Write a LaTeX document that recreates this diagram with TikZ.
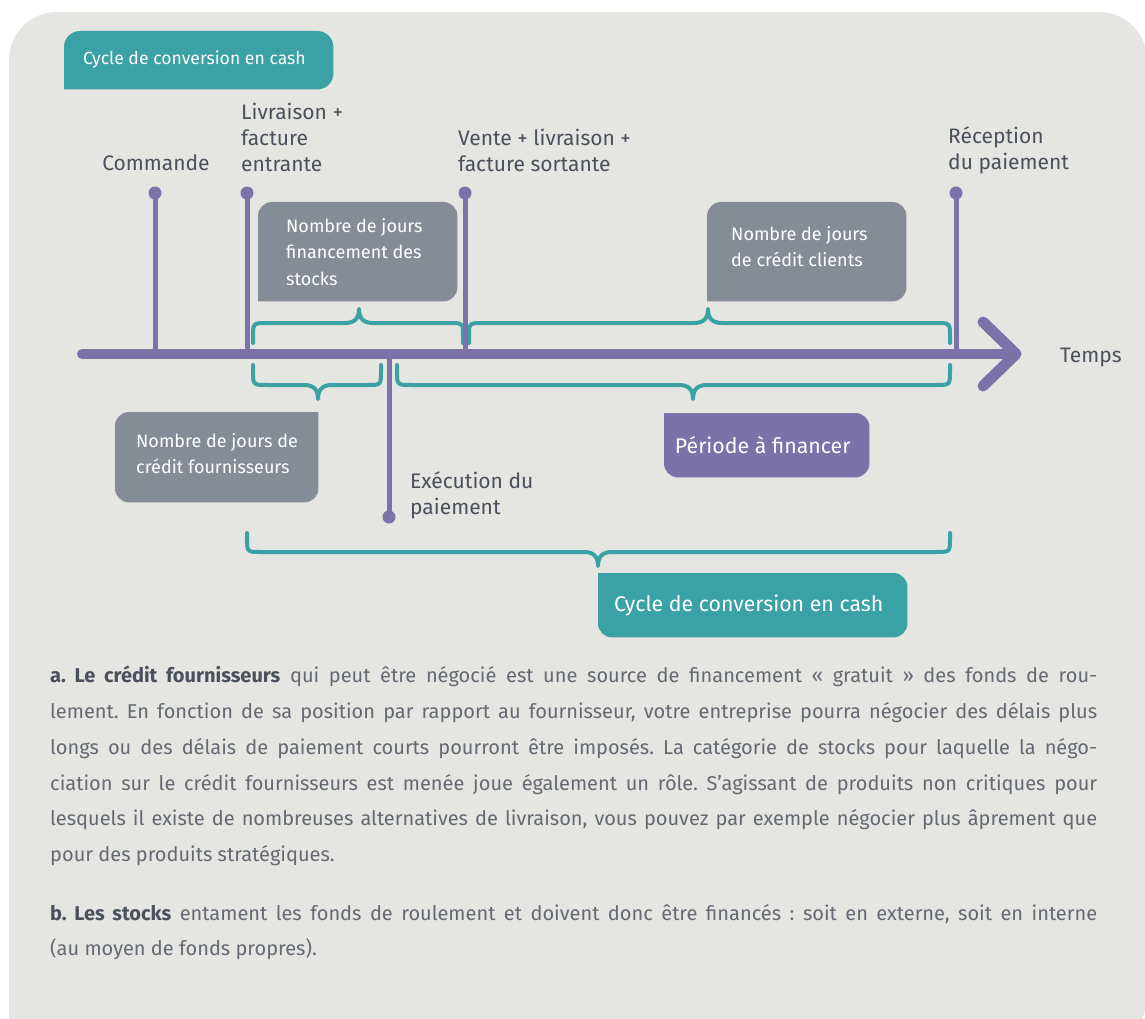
\documentclass[tikz,border=0pt]{standalone}
\usepackage{fontspec}
\setmainfont{Fira Sans}
\usetikzlibrary{backgrounds}
\definecolor{panel}{HTML}{E5E5E1}
\definecolor{purp}{HTML}{7B72AA}
\definecolor{tealc}{HTML}{3AA1A5}
\definecolor{gboxc}{HTML}{868C96}
\definecolor{lblc}{HTML}{4A505C}
\definecolor{bodyc}{HTML}{646973}
% #1 x left, #2 x right, #3 x tip, #4 y ends, #5 y bar, #6 y tip, #7 corner offset toward ends
\newcommand\hbrace[7]{%
  \draw[brc] (#1,#4) -- (#1,{#5+#7}) .. controls (#1,#5) .. ({#1+14},#5) -- ({#3-14},#5)
    .. controls ({#3-4},#5) and (#3,{#5+0.35*(#6-#5)}) .. (#3,#6)
    .. controls (#3,{#5+0.35*(#6-#5)}) and ({#3+4},#5) .. ({#3+14},#5)
    -- ({#2-14},#5) .. controls (#2,#5) .. (#2,{#5+#7}) -- (#2,#4);}
\begin{document}
\begin{tikzpicture}[x=1pt,y=-1pt,
  tick/.style={draw=purp, line width=5pt},
  dotn/.style={circle, fill=purp, inner sep=0pt, minimum size=13pt},
  lbl/.style={text=lblc, font=\fontsize{21}{26}\selectfont, align=left, inner sep=0pt},
  brc/.style={draw=tealc, line width=4pt, line cap=round, line join=round},
  shp/.style={inner sep=0pt, anchor=north west},
  boxtxt/.style={text=white, font=\fontsize{18}{26.5}\selectfont, align=left, inner sep=0pt},
  bigtxt/.style={text=white, font=\fontsize{21.3}{24}\selectfont, inner sep=0pt},
  bodytxt/.style={anchor=north west, inner sep=0pt, text width=1047pt, align=justify, text=bodyc,
      font=\fontsize{20}{35.7}\selectfont}]
\useasboundingbox (0,0) rectangle (1145,1019);
\begin{scope}
\clip (0,0) rectangle (1145,1019);
\fill[white] (0,0) rectangle (1145,1019);
\fill[panel, rounded corners=48] (9,1045) -- (9,12) -- (1147,12) -- (1147,1045) -- (9,1045);
\end{scope}

% top teal label
\node[shp, minimum width=269pt, minimum height=58pt] (ttl) at (64,31) {};
\fill[tealc, rounded corners=16] (ttl.south west) -- (ttl.north west) -- (ttl.north east) -- (ttl.south east) -- (ttl.south west);
\node[text=white, font=\fontsize{17.6}{20}\selectfont, inner sep=0pt, anchor=west] (ttlt) at (83,60) {Cycle de conversion en cash};

% grey boxes
\node[shp, minimum width=199pt, minimum height=99pt] (stk) at (258,202) {};
\fill[gboxc, rounded corners=14] (stk.south west) -- (stk.north west) -- (stk.north east) -- (stk.south east) -- (stk.south west);
\node[boxtxt, anchor=west] (stkt) at ([xshift=28pt]stk.west) {Nombre de jours\\financement des\\stocks};

\node[shp, minimum width=199pt, minimum height=99pt] (cli) at (707,202) {};
\fill[gboxc, rounded corners=14] (cli.south west) -- (cli.north west) -- (cli.north east) -- (cli.south east) -- (cli.south west);
\node[boxtxt, anchor=west] (clit) at ([xshift=24pt, yshift=5pt]cli.west) {Nombre de jours\\de crédit clients};

\node[shp, minimum width=203pt, minimum height=90pt] (four) at (115,412) {};
\fill[gboxc, rounded corners=14] (four.north east) -- (four.south east) -- (four.south west) -- (four.north west) -- (four.north east);
\node[boxtxt, anchor=west] (fourt) at ([xshift=21pt, yshift=3.5pt]four.west) {Nombre de jours de\\crédit fournisseurs};

% purple period box
\node[shp, minimum width=205pt, minimum height=64pt] (per) at (664,413) {};
\fill[purp, rounded corners=14] (per.north west) -- (per.north east) -- (per.south east) -- (per.south west) -- (per.north west);
\node[bigtxt, anchor=center] (pert) at ([xshift=-4pt]per.center) {Période à financer};

% bottom teal box
\node[shp, minimum width=309pt, minimum height=64pt] (ccc) at (598,573) {};
\fill[tealc, rounded corners=14] (ccc.north west) -- (ccc.north east) -- (ccc.south east) -- (ccc.south west) -- (ccc.north west);
\node[bigtxt, anchor=center] (ccct) at ([xshift=-4pt]ccc.center) {Cycle de conversion en cash};

% braces
\hbrace{253}{463}{359}{343}{323}{309}{14}
\hbrace{469}{950}{708}{343}{323}{309}{14}
\hbrace{253}{381}{318}{365}{385}{399}{-14}
\hbrace{397}{950}{693}{365}{385}{399}{-14}
\hbrace{247}{950}{598}{533}{552}{566}{-14}

% axis
\coordinate (axs) at (82,354);
\coordinate (axe) at (1016,354);
\coordinate (chu) at (983,322);
\coordinate (chd) at (983,386);
\draw[purp, line width=10pt, line cap=round] (axs) -- (axe);
\draw[purp, line width=11pt, line cap=round, line join=round] (chu) -- (axe) -- (chd);

% ticks
\node[dotn] (cmd) at (155,193) {};
\node[dotn] (liv) at (247,193) {};
\node[dotn] (ven) at (465,193) {};
\node[dotn] (rec) at (956,193) {};
\node[dotn] (exe) at (389,517) {};
\coordinate (cmdax) at (155,354);
\coordinate (livax) at (247,354);
\coordinate (venax) at (465,354);
\coordinate (recax) at (956,354);
\coordinate (exeax) at (389,354);
\draw[tick] (cmd.center) -- (cmdax);
\draw[tick] (liv.center) -- (livax);
\draw[tick] (ven.center) -- (venax);
\draw[tick] (rec.center) -- (recax);
\draw[tick] (exeax) -- (exe.center);

% labels
\node[lbl, anchor=center] (cmdl) at (156,163) {Commande};
\node[lbl, anchor=west] (livl) at (241,137.5) {Livraison +\\facture\\entrante};
\node[lbl, anchor=west] (venl) at (458,150) {Vente + livraison +\\facture sortante};
\node[lbl, anchor=west] (recl) at (948,150) {Réception\\du paiement};
\node[lbl, anchor=west] (tps) at (1060,357) {Temps};
\node[lbl, anchor=west] (exel) at (410,495) {Exécution du\\paiement};

% body text
\node[bodytxt] (pa) at (50,666)
{\frenchspacing\hyphenpenalty=10000\tolerance=10000\noindent
{\color{lblc}\bfseries a. Le crédit fournisseurs} qui peut être négocié est une source de financement «~gratuit~» des fonds de rou-\linebreak
lement. En fonction de sa position par rapport au fournisseur, votre entreprise pourra négocier des délais plus\linebreak
longs ou des délais de paiement courts pourront être imposés. La catégorie de stocks pour laquelle la négo-\linebreak
ciation sur le crédit fournisseurs est menée joue également un rôle. S’agissant de produits non critiques pour\linebreak
lesquels il existe de nombreuses alternatives de livraison, vous pouvez par exemple négocier plus âprement que\linebreak
pour des produits stratégiques.\par};
\node[bodytxt] (pb) at (50,904)
{\frenchspacing\hyphenpenalty=10000\tolerance=10000\noindent
{\color{lblc}\bfseries b. Les stocks} entament les fonds de roulement et doivent donc être financés~: soit en externe, soit en interne\linebreak
(au moyen de fonds propres).\par};
\end{tikzpicture}
\end{document}
